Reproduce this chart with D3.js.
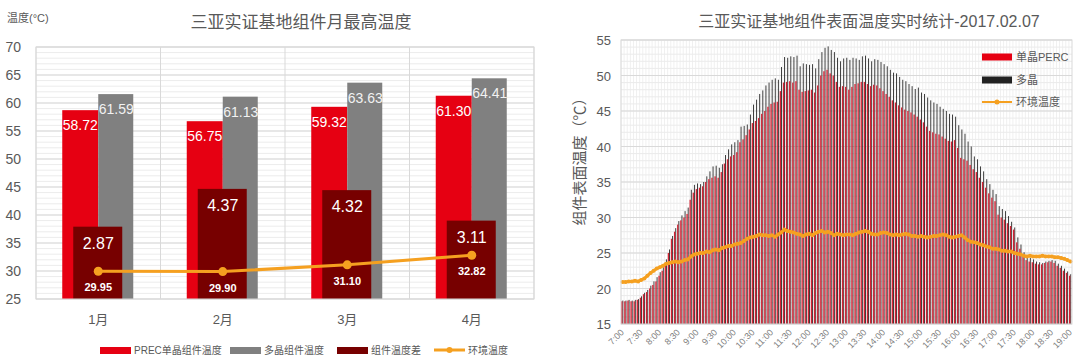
<!DOCTYPE html>
<html>
<head>
<meta charset="utf-8">
<script src="https://cdn.jsdelivr.net/npm/d3@7"></script>
<style>
body { margin: 0; background: #fff; }
text { font-family: "Liberation Sans", Arial, "Noto Sans CJK SC", sans-serif; }
</style>
</head>
<body>
<svg id="chart" width="1080" height="362"></svg>
<script>
// left chart: monthly max temperatures
const months = ['1月', '2月', '3月', '4月']
const percMax = [58.72, 56.75, 59.32, 61.30]
const multiMax = [61.59, 61.13, 63.63, 64.41]
const tempDiff = [2.87, 4.37, 4.32, 3.11]
const ambientMax = [29.95, 29.90, 31.10, 32.82]
const leftTicks = [25, 30, 35, 40, 45, 50, 55, 60, 65, 70]

// right chart: 5 minute readings on 2017.02.07
const times = [
    '7:00', '7:05', '7:10', '7:15', '7:20', '7:25', '7:30', '7:35', '7:40', '7:45', '7:50', '7:55',
    '8:00', '8:05', '8:10', '8:15', '8:20', '8:25', '8:30', '8:35', '8:40', '8:45', '8:50', '8:55',
    '9:00', '9:05', '9:10', '9:15', '9:20', '9:25', '9:30', '9:35', '9:40', '9:45', '9:50', '9:55',
    '10:00', '10:05', '10:10', '10:15', '10:20', '10:25', '10:30', '10:35', '10:40', '10:45', '10:50', '10:55',
    '11:00', '11:05', '11:10', '11:15', '11:20', '11:25', '11:30', '11:35', '11:40', '11:45', '11:50', '11:55',
    '12:00', '12:05', '12:10', '12:15', '12:20', '12:25', '12:30', '12:35', '12:40', '12:45', '12:50', '12:55',
    '13:00', '13:05', '13:10', '13:15', '13:20', '13:25', '13:30', '13:35', '13:40', '13:45', '13:50', '13:55',
    '14:00', '14:05', '14:10', '14:15', '14:20', '14:25', '14:30', '14:35', '14:40', '14:45', '14:50', '14:55',
    '15:00', '15:05', '15:10', '15:15', '15:20', '15:25', '15:30', '15:35', '15:40', '15:45', '15:50', '15:55',
    '16:00', '16:05', '16:10', '16:15', '16:20', '16:25', '16:30', '16:35', '16:40', '16:45', '16:50', '16:55',
    '17:00', '17:05', '17:10', '17:15', '17:20', '17:25', '17:30', '17:35', '17:40', '17:45', '17:50', '17:55',
    '18:00', '18:05', '18:10', '18:15', '18:20', '18:25', '18:30', '18:35', '18:40', '18:45', '18:50', '18:55',
    '19:00'
]
const timeTicks = ['7:00', '7:30', '8:00', '8:30', '9:00', '9:30', '10:00', '10:30', '11:00', '11:30',
    '12:00', '12:30', '13:00', '13:30', '14:00', '14:30', '15:00', '15:30', '16:00', '16:30',
    '17:00', '17:30', '18:00', '18:30', '19:00']
const rightTicks = [15, 20, 25, 30, 35, 40, 45, 50, 55]

const percTemp = [
    18.2, 18.2, 18.3, 18.2, 18.2, 18.4, 18.7, 19.2, 19.5, 20.0, 20.5, 21.0,
    21.8, 22.5, 23.6, 25.0, 27.0, 28.0, 29.0, 29.6, 30.0, 30.5, 32.5, 33.5,
    34.0, 34.2, 34.4, 35.0, 35.4, 35.6, 35.8, 35.6, 36.4, 37.6, 38.2, 38.6,
    38.8, 39.2, 40.6, 41.0, 41.6, 42.4, 43.3, 43.6, 44.0, 44.6, 45.0, 45.6,
    46.0, 46.2, 46.3, 47.8, 49.0, 49.1, 49.2, 49.0, 49.2, 48.0, 47.7, 47.8,
    47.9, 48.0, 47.6, 48.6, 50.0, 50.6, 50.8, 50.3, 50.0, 49.1, 48.4, 48.5,
    48.4, 48.0, 48.4, 48.8, 48.9, 49.1, 49.1, 48.8, 48.5, 48.7, 48.6, 48.2,
    47.8, 47.4, 47.0, 46.5, 46.2, 45.8, 45.5, 45.2, 45.0, 44.8, 44.5, 44.2,
    43.8, 43.4, 42.8, 42.2, 42.0, 41.8, 41.7, 41.4, 41.1, 40.8, 40.7, 40.9,
    39.8, 38.4, 38.2, 38.0, 37.4, 36.8, 36.4, 35.6, 35.0, 34.2, 33.4, 32.8,
    32.3, 30.4, 30.0, 29.7, 29.2, 28.8, 28.3, 26.5, 25.6, 24.5, 24.0, 23.8,
    23.7, 23.5, 23.4, 23.4, 23.6, 23.7, 23.8, 23.6, 23.2, 22.9, 22.5, 22.2,
    21.8
]
const multiTemp = [
    18.3, 18.3, 18.4, 18.3, 18.4, 18.5, 18.9, 19.4, 19.8, 20.4, 21.0, 21.6,
    22.3, 23.0, 24.1, 25.5, 27.4, 28.5, 29.5, 30.3, 30.9, 31.4, 33.9, 34.6,
    34.8, 34.7, 35.0, 35.8, 36.5, 37.2, 37.3, 37.0, 37.5, 38.8, 39.6, 40.3,
    40.6, 40.9, 42.8, 42.9, 43.1, 44.5, 45.9, 46.6, 47.4, 47.9, 48.6, 49.0,
    49.4, 49.6, 49.4, 51.2, 52.6, 52.5, 52.7, 52.6, 52.8, 51.3, 51.7, 51.6,
    51.5, 51.6, 51.0, 52.3, 53.3, 53.9, 54.1, 53.6, 53.3, 52.5, 52.0, 52.4,
    52.5, 52.2, 52.5, 52.4, 52.2, 52.7, 52.8, 52.4, 52.0, 52.3, 52.2, 51.9,
    51.6, 51.3, 50.8, 50.4, 50.3, 49.8, 49.4, 49.2, 48.8, 48.5, 48.1, 48.3,
    47.6, 47.4, 46.9, 46.5, 46.2, 46.0, 45.6, 45.3, 45.0, 44.6, 44.5, 44.2,
    43.0, 42.4, 41.8, 40.7, 40.0, 38.6, 38.2, 37.2, 36.5, 35.4, 34.7, 33.9,
    33.3, 31.6, 31.2, 30.9, 30.2, 29.4, 28.6, 27.2, 26.2, 25.1, 24.6, 24.3,
    24.1, 23.8, 23.7, 23.6, 23.8, 23.9, 24.0, 23.9, 23.5, 23.2, 22.8, 22.4,
    22.0
]
const ambientTemp = [
    20.9, 20.9, 21.0, 21.0, 21.1, 21.0, 21.2, 21.4, 21.8, 22.2, 22.5, 22.8,
    23.0, 23.2, 23.5, 23.6, 23.7, 23.8, 23.7, 23.8, 24.0, 24.1, 24.5, 24.8,
    24.9, 25.0, 25.0, 25.2, 25.1, 25.4, 25.5, 25.4, 25.7, 25.8, 26.0, 26.0,
    26.2, 26.3, 26.4, 26.7, 27.0, 27.2, 27.3, 27.4, 27.6, 27.5, 27.5, 27.4,
    27.5, 27.3, 27.6, 27.9, 28.3, 28.1, 28.0, 27.9, 27.7, 27.6, 27.4, 27.6,
    27.7, 27.5, 27.8, 28.0, 28.1, 27.9, 28.0, 27.8, 27.5, 27.7, 27.6, 27.5,
    27.6, 27.6, 27.5, 27.7, 27.9, 28.0, 28.1, 28.0, 27.7, 27.6, 27.6, 27.8,
    27.9, 27.8, 27.6, 27.5, 27.6, 27.5, 27.6, 27.7, 27.6, 27.4, 27.4, 27.3,
    27.4, 27.3, 27.2, 27.3, 27.4, 27.4, 27.5, 27.6, 27.5, 27.3, 27.2, 27.3,
    27.4, 27.5, 27.2, 26.8, 26.6, 26.5, 26.4, 26.2, 26.1, 25.9, 25.8, 25.6,
    25.6, 25.5, 25.3, 25.3, 25.2, 25.2, 25.0, 24.9, 24.8, 24.6, 24.5, 24.6,
    24.5, 24.5, 24.5, 24.6, 24.5, 24.5, 24.5, 24.4, 24.4, 24.3, 24.2, 24.0,
    23.8
]

const textColor = '#595959'
const orange = '#f5a020'
const svg = d3.select('#chart')

buildLeft()
buildRight()

function buildLeft() {
    const m = { left: 36, right: 534, top: 47, bottom: 299 }
    const g = svg.append('g')

    const x = d3.scaleBand().domain(months).range([m.left, m.right])
    const y = d3.scaleLinear().domain([25, 70]).range([m.bottom, m.top])
    // hidden secondary axis for the difference bars
    const yDiff = d3.scaleLinear().domain([0, 10]).range([m.bottom, m.top])
    const mid = d => x(d) + x.bandwidth() / 2

    g.selectAll('.minor').data(y.ticks(45)).join('line')
        .attr('x1', m.left).attr('x2', m.right)
        .attr('y1', d => y(d)).attr('y2', d => y(d))
        .style('stroke', '#ececec')
    g.selectAll('.major').data(leftTicks).join('line')
        .attr('x1', m.left).attr('x2', m.right)
        .attr('y1', d => y(d)).attr('y2', d => y(d))
        .style('stroke', '#d9d9d9')
    g.selectAll('.vgrid').data(months.concat(['end'])).join('line')
        .attr('x1', (d, i) => m.left + i * x.step()).attr('x2', (d, i) => m.left + i * x.step())
        .attr('y1', m.top).attr('y2', m.bottom)
        .style('stroke', '#d9d9d9')

    g.selectAll('.ylab').data(leftTicks).join('text')
        .attr('x', 21).attr('y', d => y(d) + 5)
        .attr('text-anchor', 'end')
        .style('font-size', '14px').style('fill', textColor)
        .text(d => d)

    g.selectAll('.xlab').data(months).join('text')
        .attr('x', mid).attr('y', 324)
        .attr('text-anchor', 'middle')
        .style('font-size', '13px').style('fill', textColor)
        .text(d => d)

    g.selectAll('.perc').data(months).join('rect')
        .attr('x', d => mid(d) - 36).attr('width', 36)
        .attr('y', (d, i) => y(percMax[i])).attr('height', (d, i) => m.bottom - y(percMax[i]))
        .style('fill', '#e60012')
    g.selectAll('.multi').data(months).join('rect')
        .attr('x', d => mid(d)).attr('width', 35)
        .attr('y', (d, i) => y(multiMax[i])).attr('height', (d, i) => m.bottom - y(multiMax[i]))
        .style('fill', '#808080')
    g.selectAll('.diff').data(months).join('rect')
        .attr('x', d => mid(d) - 25).attr('width', 49)
        .attr('y', (d, i) => yDiff(tempDiff[i])).attr('height', (d, i) => m.bottom - yDiff(tempDiff[i]))
        .style('fill', '#770000')

    g.selectAll('.plab').data(months).join('text')
        .attr('x', d => mid(d) - 18).attr('y', (d, i) => y(percMax[i]) + 20)
        .attr('text-anchor', 'middle')
        .style('font-size', '14px').style('fill', '#fff')
        .text((d, i) => percMax[i].toFixed(2))
    g.selectAll('.mlab').data(months).join('text')
        .attr('x', d => mid(d) + 18).attr('y', (d, i) => y(multiMax[i]) + 20)
        .attr('text-anchor', 'middle')
        .style('font-size', '14px').style('fill', '#f2f2f2')
        .text((d, i) => multiMax[i].toFixed(2))
    g.selectAll('.dlab').data(months).join('text')
        .attr('x', mid).attr('y', (d, i) => yDiff(tempDiff[i]) + 22)
        .attr('text-anchor', 'middle')
        .style('font-size', '16px').style('fill', '#fff')
        .text((d, i) => tempDiff[i].toFixed(2))

    const line = d3.line().x((d, i) => mid(months[i])).y(d => y(d))
    g.append('path').datum(ambientMax)
        .attr('d', line)
        .style('fill', 'none').style('stroke', orange).style('stroke-width', 3)
    g.selectAll('.apt').data(ambientMax).join('circle')
        .attr('cx', (d, i) => mid(months[i])).attr('cy', d => y(d)).attr('r', 4.5)
        .style('fill', orange)
    g.selectAll('.alab').data(ambientMax).join('text')
        .attr('x', (d, i) => mid(months[i])).attr('y', d => y(d) + 20)
        .attr('text-anchor', 'middle')
        .style('font-size', '11px').style('font-weight', 'bold').style('fill', '#fff')
        .text(d => d.toFixed(2))

    g.append('rect')
        .attr('x', m.left).attr('y', m.top)
        .attr('width', m.right - m.left).attr('height', m.bottom - m.top)
        .style('fill', 'none').style('stroke', '#d9d9d9')

    g.append('text')
        .attr('x', 301).attr('y', 28)
        .attr('text-anchor', 'middle')
        .style('font-size', '17px').style('fill', textColor)
        .text('三亚实证基地组件月最高温度')
    g.append('text')
        .attr('x', 7).attr('y', 22)
        .style('font-size', '11px').style('fill', textColor)
        .text('温度(°C)')

    const legend = [
        { name: 'PREC单晶组件温度', color: '#e60012', x: 100 },
        { name: '多晶组件温度', color: '#808080', x: 230 },
        { name: '组件温度差', color: '#770000', x: 337 },
        { name: '环境温度', color: orange, x: 434, line: true }
    ]
    legend.forEach(l => {
        if (l.line) {
            g.append('line')
                .attr('x1', l.x).attr('x2', l.x + 31).attr('y1', 350).attr('y2', 350)
                .style('stroke', l.color).style('stroke-width', 3)
            g.append('circle').attr('cx', l.x + 15.5).attr('cy', 350).attr('r', 3)
                .style('fill', l.color)
        } else {
            g.append('rect')
                .attr('x', l.x).attr('y', 347).attr('width', 31).attr('height', 7)
                .style('fill', l.color)
        }
        g.append('text')
            .attr('x', l.x + 34).attr('y', 354)
            .style('font-size', '10px').style('fill', textColor)
            .text(l.name)
    })
}

function buildRight() {
    const m = { left: 621, right: 1072, top: 40, bottom: 324 }
    const g = svg.append('g')

    const x = d3.scaleBand().domain(times).range([m.left, m.right])
    const y = d3.scaleLinear().domain([15, 55]).range([m.bottom, m.top])
    const bw = x.bandwidth()
    const mid = d => x(d) + bw / 2

    g.selectAll('.vgrid').data(times).join('line')
        .attr('x1', d => x(d)).attr('x2', d => x(d))
        .attr('y1', m.top).attr('y2', m.bottom)
        .style('stroke', '#f0f0f0')
    g.selectAll('.minor').data(y.ticks(40)).join('line')
        .attr('x1', m.left).attr('x2', m.right)
        .attr('y1', d => y(d)).attr('y2', d => y(d))
        .style('stroke', '#ebebeb')
    g.selectAll('.major').data(rightTicks).join('line')
        .attr('x1', m.left).attr('x2', m.right)
        .attr('y1', d => y(d)).attr('y2', d => y(d))
        .style('stroke', '#d9d9d9')

    g.selectAll('.multi').data(times).join('rect')
        .attr('x', d => x(d) + 1.4).attr('width', 0.9)
        .attr('y', (d, i) => y(multiTemp[i])).attr('height', (d, i) => m.bottom - y(multiTemp[i]))
        .style('fill', '#2a2a2a')
    g.selectAll('.perc').data(times).join('rect')
        .attr('x', d => x(d) + 0.1).attr('width', 1.3)
        .attr('y', (d, i) => y(percTemp[i])).attr('height', (d, i) => m.bottom - y(percTemp[i]))
        .style('fill', '#d42233')

    const line = d3.line().x((d, i) => mid(times[i])).y(d => y(d))
    g.append('path').datum(ambientTemp)
        .attr('d', line)
        .style('fill', 'none').style('stroke', orange).style('stroke-width', 3)
    g.selectAll('.apt').data(ambientTemp).join('circle')
        .attr('cx', (d, i) => mid(times[i])).attr('cy', d => y(d)).attr('r', 2)
        .style('fill', orange)

    g.append('rect')
        .attr('x', m.left).attr('y', m.top)
        .attr('width', m.right - m.left).attr('height', m.bottom - m.top)
        .style('fill', 'none').style('stroke', '#d9d9d9')

    g.selectAll('.ylab').data(rightTicks).join('text')
        .attr('x', 611).attr('y', d => y(d) + 5)
        .attr('text-anchor', 'end')
        .style('font-size', '13px').style('fill', textColor)
        .text(d => d)

    g.selectAll('.xlab').data(timeTicks).join('text')
        .attr('transform', d => `translate(${mid(d) + 2},${m.bottom + 9}) rotate(-45)`)
        .attr('text-anchor', 'end')
        .style('font-size', '9px').style('fill', '#7f7f7f')
        .text(d => d)

    g.append('text')
        .attr('transform', `translate(585,158) rotate(-90)`)
        .attr('text-anchor', 'middle')
        .style('font-size', '15px').style('fill', textColor)
        .text('组件表面温度（℃）')

    g.append('text')
        .attr('x', 869).attr('y', 27)
        .attr('text-anchor', 'middle')
        .style('font-size', '16px').style('fill', textColor)
        .text('三亚实证基地组件表面温度实时统计-2017.02.07')

    const legend = [
        { name: '单晶PERC', color: '#e60012', y: 57 },
        { name: '多晶', color: '#222', y: 80 },
        { name: '环境温度', color: orange, y: 102, line: true }
    ]
    legend.forEach(l => {
        if (l.line) {
            g.append('line')
                .attr('x1', 982).attr('x2', 1012).attr('y1', l.y).attr('y2', l.y)
                .style('stroke', l.color).style('stroke-width', 2)
            g.append('circle').attr('cx', 997).attr('cy', l.y).attr('r', 2.5)
                .style('fill', l.color)
        } else {
            g.append('rect')
                .attr('x', 982).attr('y', l.y - 3.5).attr('width', 30).attr('height', 7)
                .style('fill', l.color)
        }
        g.append('text')
            .attr('x', 1016).attr('y', l.y + 4)
            .style('font-size', '11px').style('fill', textColor)
            .text(l.name)
    })
}
</script>
</body>
</html>
